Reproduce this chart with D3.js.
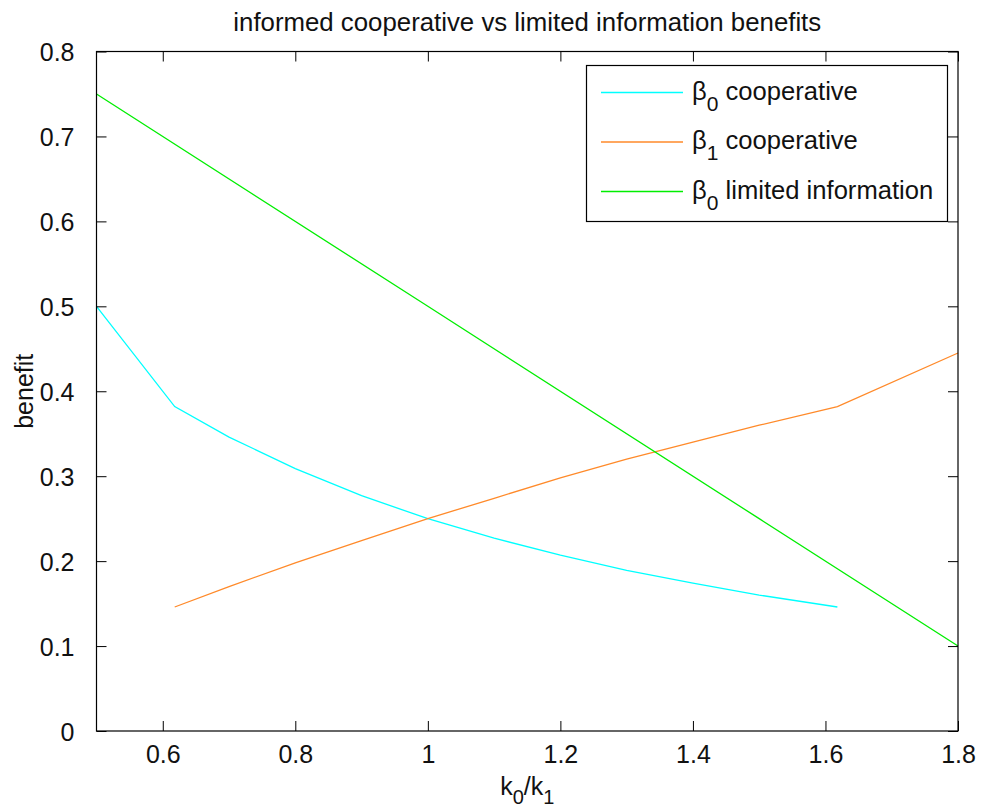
<!DOCTYPE html>
<html>
<head>
<meta charset="utf-8">
<script src="https://cdn.jsdelivr.net/npm/d3@7"></script>
<style>
  html, body { margin: 0; padding: 0; background: #fff; }
  svg { display: block; font-family: "Liberation Sans", Arial, sans-serif; }
</style>
</head>
<body>
<svg id="chart" width="981" height="811"></svg>
<script>
// Benefit curves against the cost ratio k0/k1
const beta0CoopX = [0.5, 0.618, 0.7, 0.8, 0.9, 1.0, 1.1, 1.2, 1.3, 1.4, 1.5, 1.618];
const beta0CoopY = [0.5, 0.382, 0.346, 0.309, 0.277, 0.25, 0.227, 0.207, 0.189, 0.174, 0.16, 0.146];

const beta1CoopX = [0.618, 0.7, 0.8, 0.9, 1.0, 1.1, 1.2, 1.3, 1.4, 1.5, 1.618, 1.8];
const beta1CoopY = [0.146, 0.170, 0.198, 0.224, 0.25, 0.274, 0.298, 0.320, 0.340, 0.36, 0.382, 0.445];

const beta0LimX = [0.5, 1.0, 1.5, 1.8];
const beta0LimY = [0.75, 0.5, 0.25, 0.1];

const seriesNames = ["cooperative", "cooperative", "limited information"];
const seriesSubs = ["0", "1", "0"];
const seriesColors = ["#00ffff", "#ff8a2a", "#00ee00"];

const xTicks = [0.6, 0.8, 1.0, 1.2, 1.4, 1.6, 1.8];
const xTickLabels = ["0.6", "0.8", "1", "1.2", "1.4", "1.6", "1.8"];
const yTicks = [0, 0.1, 0.2, 0.3, 0.4, 0.5, 0.6, 0.7, 0.8];
const yTickLabels = ["0", "0.1", "0.2", "0.3", "0.4", "0.5", "0.6", "0.7", "0.8"];

const titleText = "informed cooperative vs limited information benefits";
const yLabelText = "benefit";

const svg = d3.select("#chart");
const plotL = 96.5, plotR = 958, plotT = 51.5, plotB = 731;
const FS = 25;
const INK = "#111";

const x = d3.scaleLinear().domain([0.5, 1.8]).range([plotL, plotR]);
const y = d3.scaleLinear().domain([0, 0.8]).range([plotB, plotT]);

// plot background
svg.append("rect").attr("x", plotL).attr("y", plotT)
  .attr("width", plotR - plotL).attr("height", plotB - plotT).attr("fill", "#fff");

// data lines
const line = d3.line().x(d => x(d[0])).y(d => y(d[1]));
const series = [
  d3.zip(beta0CoopX, beta0CoopY),
  d3.zip(beta1CoopX, beta1CoopY),
  d3.zip(beta0LimX, beta0LimY)
];
series.forEach((s, i) => {
  svg.append("path").datum(s).attr("d", line)
    .attr("fill", "none").attr("stroke", seriesColors[i]).attr("stroke-width", 1.3);
});

// axes with inward ticks on all four sides
const xFmt = (d) => xTickLabels[xTicks.indexOf(d)];
const yFmt = (d) => yTickLabels[yTicks.indexOf(d)];

const gx = svg.append("g").attr("transform", `translate(0,${plotB})`)
  .call(d3.axisBottom(x).tickValues(xTicks).tickFormat(xFmt).tickSizeInner(-10).tickSizeOuter(0).tickPadding(14));
const gxTop = svg.append("g").attr("transform", `translate(0,${plotT})`)
  .call(d3.axisTop(x).tickValues(xTicks).tickFormat("").tickSizeInner(-10).tickSizeOuter(0));
const gy = svg.append("g").attr("transform", `translate(${plotL},0)`)
  .call(d3.axisLeft(y).tickValues(yTicks).tickFormat(yFmt).tickSizeInner(-10).tickSizeOuter(0).tickPadding(22));
const gyRight = svg.append("g").attr("transform", `translate(${plotR},0)`)
  .call(d3.axisRight(y).tickValues(yTicks).tickFormat("").tickSizeInner(-10).tickSizeOuter(0));

[gx, gxTop, gy, gyRight].forEach(g => {
  g.selectAll(".domain").remove();
  g.selectAll(".tick line").attr("stroke", "#000").attr("stroke-width", 1);
  g.selectAll(".tick text").attr("font-size", FS).attr("fill", INK)
    .attr("font-family", "'Liberation Sans', Arial, sans-serif");
});
gx.selectAll(".tick text").attr("dy", "0.71em");
gy.selectAll(".tick text").attr("dy", "0.36em");

// axes box
svg.append("rect").attr("x", plotL).attr("y", plotT)
  .attr("width", plotR - plotL).attr("height", plotB - plotT)
  .attr("fill", "none").attr("stroke", "#000").attr("stroke-width", 1.2);

// title
svg.append("text").attr("x", (plotL + plotR) / 2).attr("y", 31)
  .attr("text-anchor", "middle").attr("font-size", 25.8).attr("fill", INK)
  .text(titleText);

// x label k0/k1
const xl = svg.append("text").attr("x", (plotL + plotR) / 2).attr("y", 795)
  .attr("text-anchor", "middle").attr("font-size", FS).attr("fill", INK);
xl.append("tspan").text("k");
xl.append("tspan").attr("font-size", 20).attr("dy", 9).text("0");
xl.append("tspan").attr("dy", -9).text("/k");
xl.append("tspan").attr("font-size", 20).attr("dy", 9).text("1");

// y label
svg.append("text").attr("transform", `translate(33,${(plotT + plotB) / 2}) rotate(-90)`)
  .attr("text-anchor", "middle").attr("font-size", FS).attr("fill", INK)
  .text(yLabelText);

// legend
const lg = svg.append("g");
lg.append("rect").attr("x", 586.5).attr("y", 65.5).attr("width", 361).attr("height", 156)
  .attr("fill", "#fff").attr("stroke", "#000").attr("stroke-width", 1.2);
seriesNames.forEach((name, i) => {
  const cy = 92.5 + i * 49.5;
  lg.append("line").attr("x1", 601).attr("x2", 683).attr("y1", cy).attr("y2", cy)
    .attr("stroke", seriesColors[i]).attr("stroke-width", 1.3);
  const t = lg.append("text").attr("x", 692).attr("y", cy + 7)
    .attr("font-size", 25.6).attr("fill", INK);
  t.append("tspan").text("\u03B2");
  t.append("tspan").attr("font-size", 21).attr("dy", 11).text(seriesSubs[i]);
  t.append("tspan").attr("dy", -11).text(" " + name);
});
</script>
</body>
</html>
